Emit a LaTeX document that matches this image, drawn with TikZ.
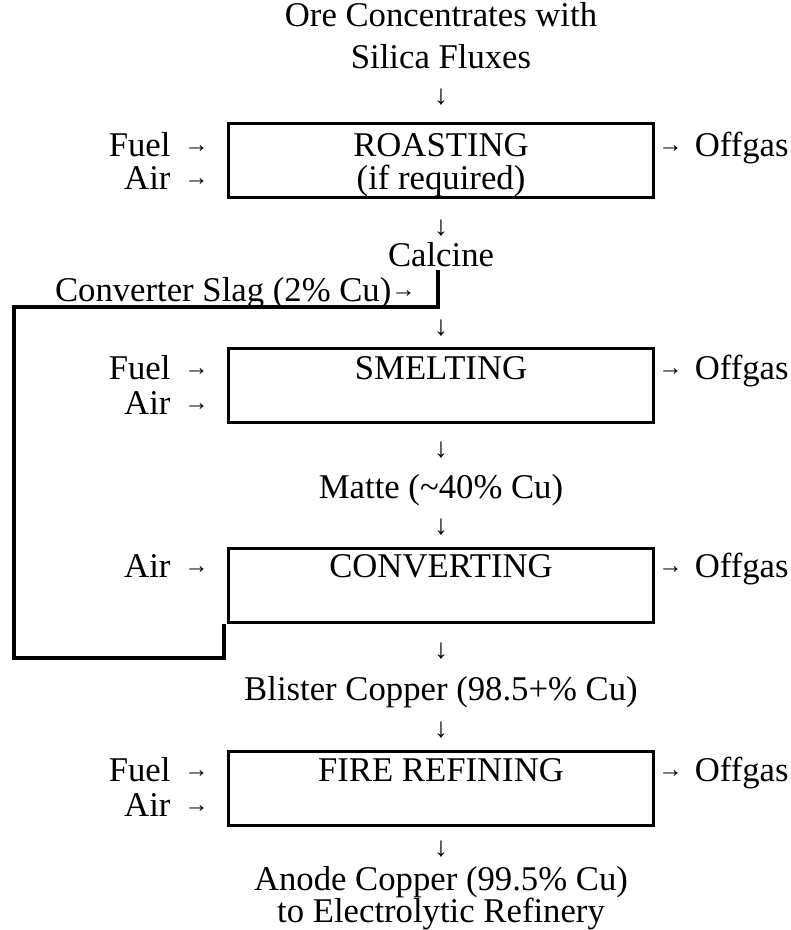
\documentclass[tikz,border=0pt]{standalone}
\usepackage{fontspec}
\setmainfont{Liberation Serif}
\usepackage{tikz}
\usetikzlibrary{positioning,calc}

\newcommand{\dnarrow}{\scalebox{0.8}{↓}}
\newcommand{\rtarrow}{\raisebox{0.1em}{\scalebox{0.7}{→}}}

\begin{document}
\begin{tikzpicture}[x=0.02cm,y=-0.02cm,
    every node/.style={font=\fontsize{19.75}{23}\selectfont, inner sep=0pt},
    procbox/.style={draw, line width=0.06cm, minimum width=8.52cm, minimum height=1.48cm, anchor=north},
    txt/.style={anchor=base},
    flowarrow/.style={anchor=center}]
  \useasboundingbox (0,0) rectangle (791,930);
  % Feed
  \node[txt] (feed1) at (441,26) {Ore Concentrates with};
  \node[txt] (feed2) at (441,68) {Silica Fluxes};
  \node[flowarrow] (a1) at (441,97) {\dnarrow};
  % Roasting
  \node[procbox] (roast) at (441,122) {};
  \node[txt] (roastT) at (441,156) {ROASTING};
  \node[txt] (roastS) at (441,189) {(if required)};
  \node[txt, anchor=base east] (roastF) at (209,156) {Fuel\hspace{0.4em}\rtarrow};
  \node[txt, anchor=base east] (roastA) at (209,189) {Air\hspace{0.4em}\rtarrow};
  \node[txt, anchor=base east] (roastO) at (789,156) {\rtarrow\hspace{0.35em}Offgas};
  \node[flowarrow] (a2) at (441,228) {\dnarrow};
  \node[txt] (calc) at (441,266) {Calcine};
  % Slag return
  \node[txt, anchor=base east] (slag) at (416,301) {Converter Slag (2\% Cu)\rtarrow};
  \node[flowarrow] (a3) at (441,328) {\dnarrow};
  % Smelting
  \node[procbox] (smelt) at (441,347) {};
  \node[txt] (smeltT) at (441,379) {SMELTING};
  \node[txt, anchor=base east] (smeltF) at (209,379) {Fuel\hspace{0.4em}\rtarrow};
  \node[txt, anchor=base east] (smeltA) at (209,414) {Air\hspace{0.4em}\rtarrow};
  \node[txt, anchor=base east] (smeltO) at (789,379) {\rtarrow\hspace{0.35em}Offgas};
  \node[flowarrow] (a4) at (441,450) {\dnarrow};
  \node[txt] (matte) at (441,498) {Matte (\textasciitilde 40\% Cu)};
  \node[flowarrow] (a5) at (441,527) {\dnarrow};
  % Converting
  \node[procbox] (conv) at (441,547) {};
  \node[txt] (convT) at (441,577) {CONVERTING};
  \node[txt, anchor=base east] (convA) at (209,577) {Air\hspace{0.4em}\rtarrow};
  \node[txt, anchor=base east] (convO) at (789,577) {\rtarrow\hspace{0.35em}Offgas};
  \node[flowarrow] (a6) at (441,651) {\dnarrow};
  \node[txt] (blister) at (441,700) {Blister Copper (98.5+\% Cu)};
  \node[flowarrow] (a7) at (441,730) {\dnarrow};
  % Fire refining
  \node[procbox] (fire) at (441,750) {};
  \node[txt] (fireT) at (441,781) {FIRE REFINING};
  \node[txt, anchor=base east] (fireF) at (209,781) {Fuel\hspace{0.4em}\rtarrow};
  \node[txt, anchor=base east] (fireA) at (209,816) {Air\hspace{0.4em}\rtarrow};
  \node[txt, anchor=base east] (fireO) at (789,781) {\rtarrow\hspace{0.35em}Offgas};
  \node[flowarrow] (a8) at (441,849) {\dnarrow};
  \node[txt] (anode1) at (441,890) {Anode Copper (99.5\% Cu)};
  \node[txt] (anode2) at (441,922) {to Electrolytic Refinery};
  % Slag loop
  \coordinate (slagtop) at (438,270);
  \draw[line width=0.08cm] (slagtop) -- (438,307) -- (14,307) -- (14,658) -- (224,658) -- (conv.south west -| 224,0);
\end{tikzpicture}
\end{document}
